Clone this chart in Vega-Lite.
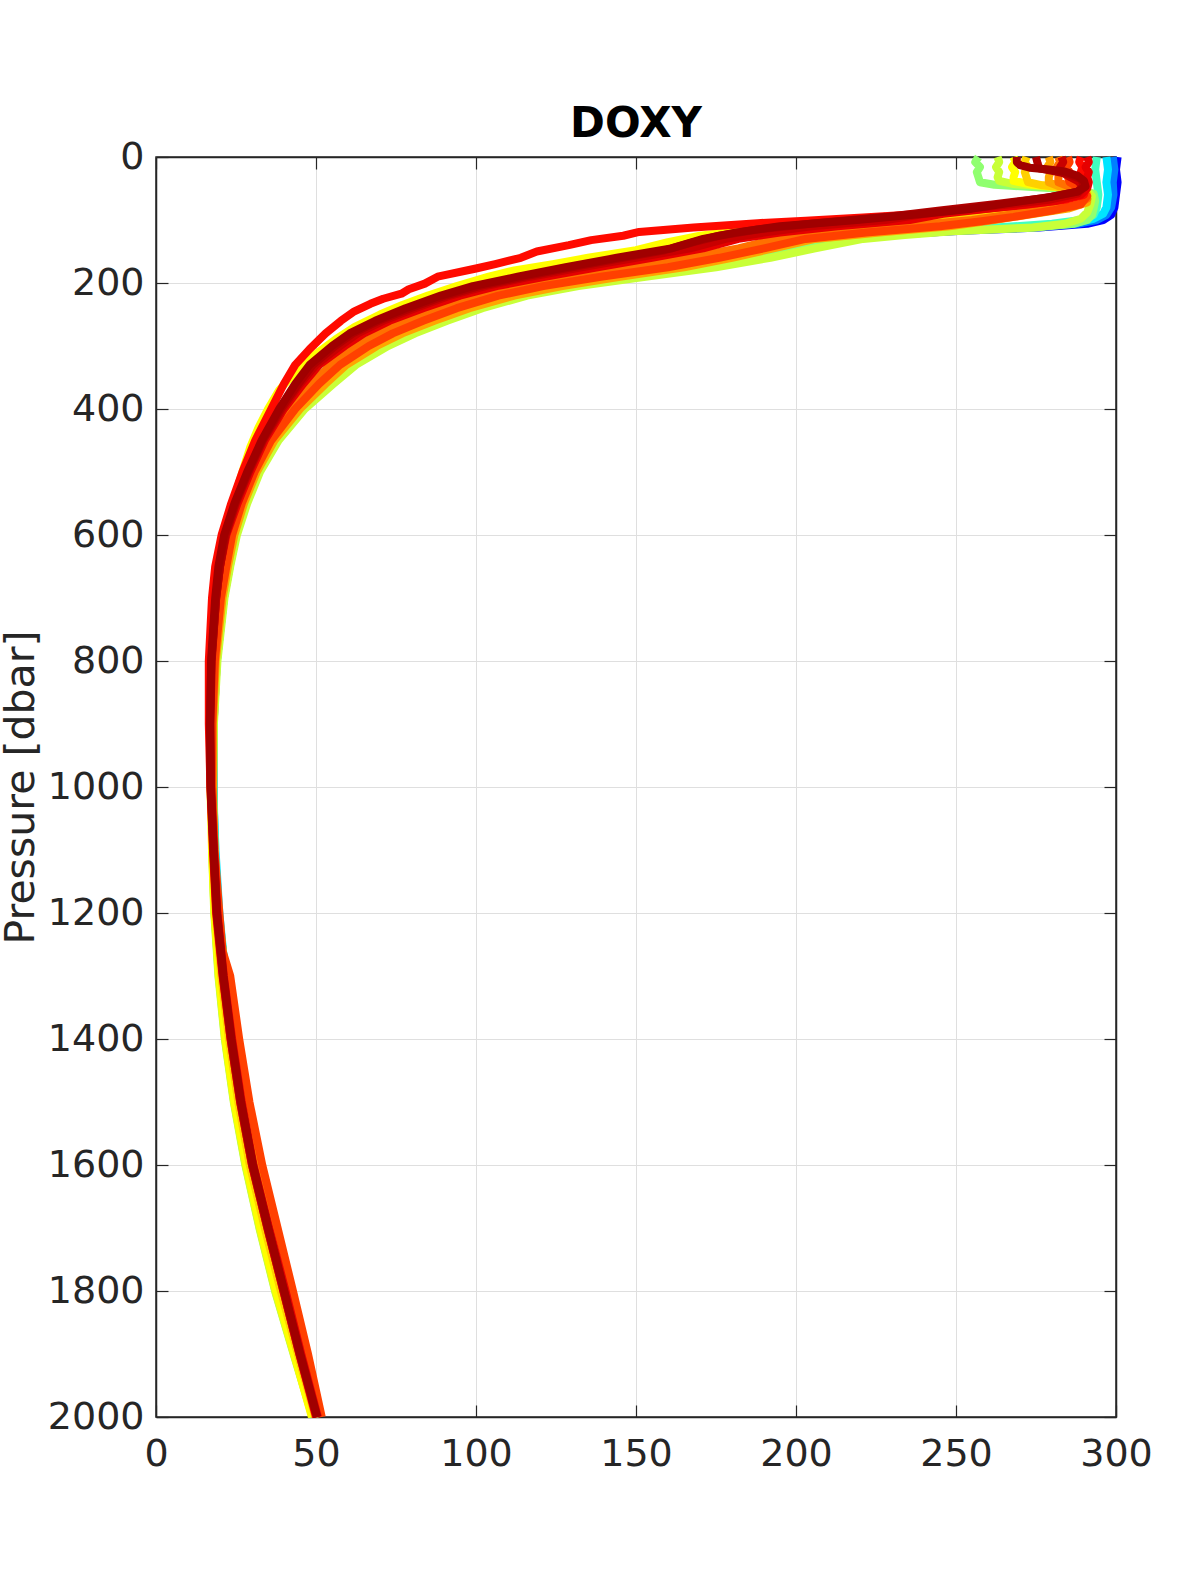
{
"$schema":"https://vega.github.io/schema/vega-lite/v6.json",
"usermeta":{"embedOptions":{"actions":false}},
"width":960,"height":1260,
"autosize":{"type":"none"},
"padding":{"left":156,"top":157,"right":84,"bottom":158},
"background":"white",
"config":{"view":{"stroke":"#262626","strokeWidth":1.5},"font":"DejaVu Sans"},
"title":{"text":"DOXY","fontSize":42,"fontWeight":"bold","font":"DejaVu Sans","color":"#000000","offset":-8,"anchor":"middle"},
"data":{"values":[
{"id":1,"p":0,"v":300.5},{"id":1,"p":20,"v":300},{"id":1,"p":40,"v":300.5},{"id":1,"p":60,"v":300},{"id":1,"p":80,"v":299.5},{"id":1,"p":92,"v":298.5},{"id":1,"p":100,"v":296},{"id":1,"p":106,"v":291},{"id":1,"p":112,"v":276},{"id":1,"p":117,"v":252},{"id":1,"p":122,"v":235},{"id":1,"p":130,"v":216},{"id":1,"p":145,"v":204},{"id":1,"p":160,"v":190},{"id":1,"p":175,"v":172},{"id":1,"p":190,"v":150},{"id":1,"p":205,"v":130},{"id":1,"p":220,"v":114},{"id":1,"p":240,"v":100},{"id":1,"p":260,"v":89},{"id":1,"p":280,"v":79.5},{"id":1,"p":300,"v":71},{"id":1,"p":330,"v":61},{"id":1,"p":360,"v":54},{"id":1,"p":400,"v":45.5},{"id":1,"p":450,"v":37.5},{"id":1,"p":500,"v":32},{"id":1,"p":550,"v":28},{"id":1,"p":600,"v":25},{"id":1,"p":650,"v":23},{"id":1,"p":700,"v":21.2},{"id":1,"p":800,"v":19},{"id":1,"p":900,"v":18},{"id":1,"p":1000,"v":18},{"id":1,"p":1100,"v":18.3},{"id":1,"p":1200,"v":19.4},{"id":1,"p":1300,"v":21.8},{"id":1,"p":1400,"v":24.5},{"id":1,"p":1500,"v":27.6},{"id":1,"p":1600,"v":31.2},{"id":1,"p":1700,"v":36},{"id":1,"p":1800,"v":41},{"id":1,"p":1900,"v":46},{"id":1,"p":2000,"v":51},
{"id":2,"p":0,"v":299},{"id":2,"p":20,"v":299.5},{"id":2,"p":40,"v":299},{"id":2,"p":60,"v":299.2},{"id":2,"p":80,"v":298.5},{"id":2,"p":92,"v":297},{"id":2,"p":100,"v":294},{"id":2,"p":106,"v":288},{"id":2,"p":112,"v":272},{"id":2,"p":118,"v":245},{"id":2,"p":124,"v":228},{"id":2,"p":130,"v":213},{"id":2,"p":145,"v":200},{"id":2,"p":160,"v":185},{"id":2,"p":175,"v":167},{"id":2,"p":190,"v":146},{"id":2,"p":205,"v":127},{"id":2,"p":220,"v":111.5},{"id":2,"p":240,"v":98},{"id":2,"p":260,"v":87},{"id":2,"p":280,"v":77.5},{"id":2,"p":300,"v":69.5},{"id":2,"p":330,"v":59.5},{"id":2,"p":360,"v":53},{"id":2,"p":400,"v":44.8},{"id":2,"p":450,"v":37},{"id":2,"p":500,"v":31.6},{"id":2,"p":550,"v":27.6},{"id":2,"p":600,"v":24.6},{"id":2,"p":650,"v":22.7},{"id":2,"p":700,"v":21},{"id":2,"p":800,"v":18.8},{"id":2,"p":900,"v":17.9},{"id":2,"p":1000,"v":17.9},{"id":2,"p":1100,"v":18.3},{"id":2,"p":1200,"v":19.3},{"id":2,"p":1300,"v":21.3},{"id":2,"p":1400,"v":23.8},{"id":2,"p":1500,"v":26.8},{"id":2,"p":1600,"v":30.5},{"id":2,"p":1700,"v":35.3},{"id":2,"p":1800,"v":40.3},{"id":2,"p":1900,"v":45.3},{"id":2,"p":2000,"v":50.6},
{"id":3,"p":0,"v":297},{"id":3,"p":20,"v":297.5},{"id":3,"p":40,"v":297},{"id":3,"p":60,"v":297.5},{"id":3,"p":80,"v":297},{"id":3,"p":90,"v":296},{"id":3,"p":98,"v":293},{"id":3,"p":105,"v":287},{"id":3,"p":111,"v":272},{"id":3,"p":118,"v":242},{"id":3,"p":124,"v":226},{"id":3,"p":130,"v":214},{"id":3,"p":145,"v":195},{"id":3,"p":160,"v":175},{"id":3,"p":175,"v":155},{"id":3,"p":190,"v":133},{"id":3,"p":205,"v":112},{"id":3,"p":220,"v":99},{"id":3,"p":240,"v":86},{"id":3,"p":260,"v":76},{"id":3,"p":280,"v":68},{"id":3,"p":300,"v":62},{"id":3,"p":330,"v":54.5},{"id":3,"p":360,"v":49},{"id":3,"p":400,"v":42},{"id":3,"p":450,"v":35},{"id":3,"p":500,"v":30},{"id":3,"p":550,"v":26},{"id":3,"p":600,"v":23},{"id":3,"p":650,"v":21.5},{"id":3,"p":700,"v":20},{"id":3,"p":800,"v":18.2},{"id":3,"p":900,"v":17.5},{"id":3,"p":1000,"v":17.8},{"id":3,"p":1100,"v":18.6},{"id":3,"p":1200,"v":19.8},{"id":3,"p":1300,"v":21.7},{"id":3,"p":1400,"v":24.1},{"id":3,"p":1500,"v":27.1},{"id":3,"p":1600,"v":30.8},{"id":3,"p":1700,"v":35.5},{"id":3,"p":1800,"v":40.5},{"id":3,"p":1900,"v":45.5},{"id":3,"p":2000,"v":50.8},
{"id":4,"p":0,"v":294},{"id":4,"p":20,"v":293.5},{"id":4,"p":40,"v":294},{"id":4,"p":60,"v":294.5},{"id":4,"p":80,"v":294},{"id":4,"p":92,"v":293},{"id":4,"p":100,"v":289},{"id":4,"p":106,"v":280},{"id":4,"p":112,"v":262},{"id":4,"p":120,"v":232},{"id":4,"p":130,"v":209},{"id":4,"p":145,"v":195},{"id":4,"p":160,"v":180},{"id":4,"p":175,"v":163},{"id":4,"p":190,"v":142},{"id":4,"p":205,"v":123},{"id":4,"p":220,"v":109},{"id":4,"p":240,"v":95.5},{"id":4,"p":260,"v":85},{"id":4,"p":280,"v":75.5},{"id":4,"p":300,"v":68},{"id":4,"p":330,"v":59},{"id":4,"p":360,"v":52.5},{"id":4,"p":400,"v":44.5},{"id":4,"p":450,"v":37},{"id":4,"p":500,"v":31.5},{"id":4,"p":550,"v":27.5},{"id":4,"p":600,"v":24.5},{"id":4,"p":650,"v":22.5},{"id":4,"p":700,"v":21},{"id":4,"p":800,"v":18.8},{"id":4,"p":900,"v":17.9},{"id":4,"p":1000,"v":18},{"id":4,"p":1100,"v":18.4},{"id":4,"p":1200,"v":19.6},{"id":4,"p":1300,"v":21.8},{"id":4,"p":1400,"v":24.3},{"id":4,"p":1500,"v":27.3},{"id":4,"p":1600,"v":31},{"id":4,"p":1700,"v":35.8},{"id":4,"p":1800,"v":40.7},{"id":4,"p":1900,"v":45.7},{"id":4,"p":2000,"v":51},
{"id":5,"p":0,"v":257},{"id":5,"p":8,"v":256},{"id":5,"p":16,"v":257.5},{"id":5,"p":24,"v":256.5},{"id":5,"p":32,"v":257},{"id":5,"p":40,"v":257.5},{"id":5,"p":44,"v":262},{"id":5,"p":48,"v":275},{"id":5,"p":52,"v":288},{"id":5,"p":58,"v":293},{"id":5,"p":70,"v":293.5},{"id":5,"p":82,"v":293},{"id":5,"p":92,"v":292.5},{"id":5,"p":100,"v":291},{"id":5,"p":106,"v":287},{"id":5,"p":112,"v":275},{"id":5,"p":117,"v":251},{"id":5,"p":122,"v":235},{"id":5,"p":128,"v":219},{"id":5,"p":140,"v":207},{"id":5,"p":160,"v":190},{"id":5,"p":175,"v":172},{"id":5,"p":190,"v":150},{"id":5,"p":205,"v":130},{"id":5,"p":220,"v":114},{"id":5,"p":240,"v":100},{"id":5,"p":260,"v":89},{"id":5,"p":280,"v":79.5},{"id":5,"p":300,"v":71},{"id":5,"p":330,"v":61},{"id":5,"p":360,"v":54},{"id":5,"p":400,"v":45.5},{"id":5,"p":450,"v":37.5},{"id":5,"p":500,"v":32},{"id":5,"p":550,"v":28},{"id":5,"p":600,"v":25},{"id":5,"p":650,"v":23},{"id":5,"p":700,"v":21.2},{"id":5,"p":800,"v":19},{"id":5,"p":900,"v":18},{"id":5,"p":1000,"v":17.8},{"id":5,"p":1100,"v":17.6},{"id":5,"p":1200,"v":18.3},{"id":5,"p":1300,"v":19.6},{"id":5,"p":1400,"v":21.6},{"id":5,"p":1500,"v":24.4},{"id":5,"p":1600,"v":28},{"id":5,"p":1700,"v":32.4},{"id":5,"p":1800,"v":37.3},{"id":5,"p":1900,"v":43.1},{"id":5,"p":2000,"v":49},
{"id":6,"p":0,"v":263},{"id":6,"p":8,"v":263.5},{"id":6,"p":16,"v":262.5},{"id":6,"p":24,"v":263.5},{"id":6,"p":32,"v":263},{"id":6,"p":38,"v":263.5},{"id":6,"p":43,"v":268},{"id":6,"p":48,"v":282},{"id":6,"p":53,"v":291},{"id":6,"p":62,"v":292.5},{"id":6,"p":75,"v":292},{"id":6,"p":88,"v":291},{"id":6,"p":98,"v":289},{"id":6,"p":106,"v":284},{"id":6,"p":112,"v":274},{"id":6,"p":118,"v":249},{"id":6,"p":124,"v":234},{"id":6,"p":130,"v":221},{"id":6,"p":145,"v":206},{"id":6,"p":160,"v":192},{"id":6,"p":175,"v":175},{"id":6,"p":190,"v":153},{"id":6,"p":205,"v":132},{"id":6,"p":220,"v":116},{"id":6,"p":240,"v":102},{"id":6,"p":260,"v":91},{"id":6,"p":280,"v":81},{"id":6,"p":300,"v":72.5},{"id":6,"p":330,"v":62.5},{"id":6,"p":360,"v":55.5},{"id":6,"p":400,"v":46.5},{"id":6,"p":450,"v":38.3},{"id":6,"p":500,"v":32.5},{"id":6,"p":550,"v":28.5},{"id":6,"p":600,"v":25.3},{"id":6,"p":650,"v":23.2},{"id":6,"p":700,"v":21.4},{"id":6,"p":800,"v":19.2},{"id":6,"p":900,"v":18.1},{"id":6,"p":1000,"v":17.9},{"id":6,"p":1100,"v":17.5},{"id":6,"p":1200,"v":18.2},{"id":6,"p":1300,"v":19.5},{"id":6,"p":1400,"v":21.5},{"id":6,"p":1500,"v":24.3},{"id":6,"p":1600,"v":27.9},{"id":6,"p":1700,"v":32.3},{"id":6,"p":1800,"v":37.2},{"id":6,"p":1900,"v":43},{"id":6,"p":2000,"v":48.9},
{"id":7,"p":0,"v":268},{"id":7,"p":8,"v":268.5},{"id":7,"p":16,"v":267.5},{"id":7,"p":24,"v":268.5},{"id":7,"p":32,"v":268},{"id":7,"p":38,"v":268},{"id":7,"p":44,"v":274},{"id":7,"p":50,"v":287},{"id":7,"p":58,"v":291},{"id":7,"p":68,"v":290},{"id":7,"p":76,"v":283},{"id":7,"p":85,"v":262},{"id":7,"p":95,"v":232},{"id":7,"p":105,"v":205},{"id":7,"p":115,"v":185},{"id":7,"p":125,"v":170},{"id":7,"p":135,"v":160},{"id":7,"p":148,"v":150},{"id":7,"p":160,"v":135},{"id":7,"p":170,"v":124},{"id":7,"p":180,"v":112},{"id":7,"p":190,"v":104},{"id":7,"p":205,"v":94},{"id":7,"p":220,"v":85},{"id":7,"p":235,"v":77},{"id":7,"p":250,"v":70},{"id":7,"p":270,"v":62},{"id":7,"p":290,"v":56},{"id":7,"p":320,"v":48},{"id":7,"p":350,"v":42},{"id":7,"p":370,"v":38.5},{"id":7,"p":400,"v":35},{"id":7,"p":430,"v":32},{"id":7,"p":460,"v":29.5},{"id":7,"p":500,"v":27},{"id":7,"p":550,"v":24},{"id":7,"p":600,"v":21.5},{"id":7,"p":650,"v":20},{"id":7,"p":700,"v":19},{"id":7,"p":800,"v":17.8},{"id":7,"p":900,"v":17.2},{"id":7,"p":1000,"v":17},{"id":7,"p":1100,"v":17.5},{"id":7,"p":1200,"v":18.3},{"id":7,"p":1300,"v":19.7},{"id":7,"p":1400,"v":21.7},{"id":7,"p":1500,"v":24.5},{"id":7,"p":1600,"v":28.2},{"id":7,"p":1700,"v":32.6},{"id":7,"p":1800,"v":37.5},{"id":7,"p":1900,"v":43.2},{"id":7,"p":2000,"v":48.7},
{"id":8,"p":0,"v":272},{"id":8,"p":8,"v":271.5},{"id":8,"p":16,"v":272.5},{"id":8,"p":24,"v":271.5},{"id":8,"p":32,"v":272},{"id":8,"p":40,"v":272.5},{"id":8,"p":45,"v":277},{"id":8,"p":50,"v":287},{"id":8,"p":58,"v":291},{"id":8,"p":70,"v":290},{"id":8,"p":80,"v":276},{"id":8,"p":90,"v":254},{"id":8,"p":100,"v":232},{"id":8,"p":110,"v":208},{"id":8,"p":120,"v":190},{"id":8,"p":130,"v":178},{"id":8,"p":145,"v":163},{"id":8,"p":160,"v":150},{"id":8,"p":175,"v":135},{"id":8,"p":190,"v":119},{"id":8,"p":205,"v":106},{"id":8,"p":220,"v":95},{"id":8,"p":240,"v":83.5},{"id":8,"p":260,"v":73},{"id":8,"p":280,"v":65},{"id":8,"p":300,"v":59},{"id":8,"p":330,"v":51},{"id":8,"p":360,"v":46},{"id":8,"p":400,"v":40},{"id":8,"p":450,"v":34},{"id":8,"p":500,"v":29.5},{"id":8,"p":550,"v":25.5},{"id":8,"p":600,"v":22.5},{"id":8,"p":650,"v":20.5},{"id":8,"p":700,"v":19.3},{"id":8,"p":800,"v":17.8},{"id":8,"p":900,"v":17.2},{"id":8,"p":1000,"v":17.4},{"id":8,"p":1100,"v":17.8},{"id":8,"p":1200,"v":18.7},{"id":8,"p":1300,"v":20.4},{"id":8,"p":1400,"v":22.8},{"id":8,"p":1500,"v":25.7},{"id":8,"p":1600,"v":29.3},{"id":8,"p":1700,"v":34},{"id":8,"p":1800,"v":39},{"id":8,"p":1900,"v":44.3},{"id":8,"p":2000,"v":49.8},
{"id":9,"p":0,"v":279},{"id":9,"p":8,"v":279.5},{"id":9,"p":16,"v":278.5},{"id":9,"p":24,"v":279.5},{"id":9,"p":32,"v":279},{"id":9,"p":40,"v":279},{"id":9,"p":46,"v":282},{"id":9,"p":52,"v":288},{"id":9,"p":60,"v":291},{"id":9,"p":72,"v":291},{"id":9,"p":82,"v":285},{"id":9,"p":92,"v":272},{"id":9,"p":100,"v":262},{"id":9,"p":110,"v":248},{"id":9,"p":120,"v":226},{"id":9,"p":130,"v":206},{"id":9,"p":145,"v":193},{"id":9,"p":160,"v":180},{"id":9,"p":175,"v":165},{"id":9,"p":190,"v":145},{"id":9,"p":205,"v":127},{"id":9,"p":220,"v":112},{"id":9,"p":240,"v":98},{"id":9,"p":260,"v":87},{"id":9,"p":280,"v":77},{"id":9,"p":300,"v":69},{"id":9,"p":330,"v":59.5},{"id":9,"p":360,"v":53},{"id":9,"p":400,"v":45},{"id":9,"p":450,"v":37},{"id":9,"p":500,"v":31.5},{"id":9,"p":550,"v":27.5},{"id":9,"p":600,"v":24.5},{"id":9,"p":650,"v":22.5},{"id":9,"p":700,"v":20.8},{"id":9,"p":800,"v":18.7},{"id":9,"p":900,"v":17.8},{"id":9,"p":1000,"v":17.8},{"id":9,"p":1100,"v":18.3},{"id":9,"p":1200,"v":19.4},{"id":9,"p":1300,"v":21.8},{"id":9,"p":1400,"v":24.5},{"id":9,"p":1500,"v":27.6},{"id":9,"p":1600,"v":31.2},{"id":9,"p":1700,"v":36},{"id":9,"p":1800,"v":41},{"id":9,"p":1900,"v":46},{"id":9,"p":2000,"v":51},
{"id":10,"p":0,"v":282},{"id":10,"p":8,"v":282.5},{"id":10,"p":16,"v":281.5},{"id":10,"p":24,"v":282.5},{"id":10,"p":32,"v":282},{"id":10,"p":40,"v":282},{"id":10,"p":48,"v":286},{"id":10,"p":56,"v":290},{"id":10,"p":66,"v":291},{"id":10,"p":78,"v":287},{"id":10,"p":88,"v":272},{"id":10,"p":100,"v":255},{"id":10,"p":110,"v":234},{"id":10,"p":120,"v":210},{"id":10,"p":130,"v":194},{"id":10,"p":145,"v":182},{"id":10,"p":160,"v":166},{"id":10,"p":175,"v":150},{"id":10,"p":190,"v":131},{"id":10,"p":205,"v":114},{"id":10,"p":220,"v":101.5},{"id":10,"p":240,"v":89},{"id":10,"p":260,"v":78.5},{"id":10,"p":280,"v":70},{"id":10,"p":300,"v":63},{"id":10,"p":330,"v":54.5},{"id":10,"p":360,"v":49},{"id":10,"p":400,"v":42},{"id":10,"p":450,"v":35},{"id":10,"p":500,"v":30},{"id":10,"p":550,"v":26},{"id":10,"p":600,"v":23},{"id":10,"p":650,"v":21.5},{"id":10,"p":700,"v":20},{"id":10,"p":800,"v":18.2},{"id":10,"p":900,"v":17.5},{"id":10,"p":1000,"v":17.6},{"id":10,"p":1100,"v":18},{"id":10,"p":1200,"v":19},{"id":10,"p":1300,"v":21},{"id":10,"p":1400,"v":23.5},{"id":10,"p":1500,"v":26.5},{"id":10,"p":1600,"v":30.2},{"id":10,"p":1700,"v":35},{"id":10,"p":1800,"v":40},{"id":10,"p":1900,"v":45},{"id":10,"p":2000,"v":50.3},
{"id":11,"p":0,"v":285},{"id":11,"p":8,"v":285.5},{"id":11,"p":16,"v":284.5},{"id":11,"p":24,"v":285.5},{"id":11,"p":32,"v":285},{"id":11,"p":40,"v":285.5},{"id":11,"p":50,"v":289},{"id":11,"p":62,"v":291},{"id":11,"p":75,"v":289},{"id":11,"p":85,"v":280},{"id":11,"p":95,"v":268},{"id":11,"p":102,"v":258},{"id":11,"p":110,"v":245},{"id":11,"p":120,"v":222},{"id":11,"p":130,"v":203},{"id":11,"p":145,"v":190},{"id":11,"p":160,"v":176},{"id":11,"p":175,"v":160},{"id":11,"p":190,"v":139},{"id":11,"p":205,"v":121},{"id":11,"p":220,"v":107},{"id":11,"p":240,"v":94},{"id":11,"p":260,"v":83.5},{"id":11,"p":280,"v":74},{"id":11,"p":300,"v":66.5},{"id":11,"p":330,"v":57.5},{"id":11,"p":360,"v":51},{"id":11,"p":400,"v":43.5},{"id":11,"p":450,"v":36},{"id":11,"p":500,"v":30.8},{"id":11,"p":550,"v":26.8},{"id":11,"p":600,"v":23.8},{"id":11,"p":650,"v":22},{"id":11,"p":700,"v":20.3},{"id":11,"p":800,"v":18.4},{"id":11,"p":900,"v":17.6},{"id":11,"p":1000,"v":17.5},{"id":11,"p":1100,"v":18.3},{"id":11,"p":1200,"v":19.8},{"id":11,"p":1260,"v":20.8},{"id":11,"p":1300,"v":23.2},{"id":11,"p":1400,"v":26},{"id":11,"p":1500,"v":29.2},{"id":11,"p":1600,"v":33.2},{"id":11,"p":1700,"v":38},{"id":11,"p":1800,"v":42.8},{"id":11,"p":1900,"v":47.5},{"id":11,"p":2000,"v":51.8},
{"id":12,"p":0,"v":289},{"id":12,"p":8,"v":288.5},{"id":12,"p":16,"v":289.5},{"id":12,"p":24,"v":289},{"id":12,"p":32,"v":289.5},{"id":12,"p":40,"v":290},{"id":12,"p":50,"v":290.5},{"id":12,"p":60,"v":290},{"id":12,"p":68,"v":284},{"id":12,"p":76,"v":272},{"id":12,"p":84,"v":255},{"id":12,"p":90,"v":240},{"id":12,"p":96,"v":221},{"id":12,"p":101,"v":203},{"id":12,"p":105,"v":188},{"id":12,"p":112,"v":168},{"id":12,"p":119,"v":151},{"id":12,"p":125,"v":146},{"id":12,"p":132,"v":136},{"id":12,"p":140,"v":129},{"id":12,"p":150,"v":119},{"id":12,"p":160,"v":114},{"id":12,"p":170,"v":106},{"id":12,"p":177,"v":100},{"id":12,"p":190,"v":88},{"id":12,"p":201,"v":84},{"id":12,"p":210,"v":79},{"id":12,"p":217,"v":76.7},{"id":12,"p":225,"v":71},{"id":12,"p":233,"v":67},{"id":12,"p":245,"v":62},{"id":12,"p":260,"v":57.8},{"id":12,"p":280,"v":53},{"id":12,"p":305,"v":48},{"id":12,"p":330,"v":43.5},{"id":12,"p":360,"v":40},{"id":12,"p":400,"v":36},{"id":12,"p":450,"v":31},{"id":12,"p":500,"v":27},{"id":12,"p":550,"v":23.5},{"id":12,"p":600,"v":20.5},{"id":12,"p":650,"v":18.5},{"id":12,"p":700,"v":17.5},{"id":12,"p":800,"v":16.5},{"id":12,"p":900,"v":16.5},{"id":12,"p":1000,"v":17},{"id":12,"p":1100,"v":17.8},{"id":12,"p":1200,"v":18.8},{"id":12,"p":1300,"v":20.8},{"id":12,"p":1400,"v":23.3},{"id":12,"p":1500,"v":26.3},{"id":12,"p":1600,"v":30},{"id":12,"p":1700,"v":34.8},{"id":12,"p":1800,"v":39.8},{"id":12,"p":1900,"v":44.8},{"id":12,"p":2000,"v":50},
{"id":13,"p":0,"v":291},{"id":13,"p":8,"v":291.5},{"id":13,"p":16,"v":290.5},{"id":13,"p":24,"v":291.5},{"id":13,"p":32,"v":291},{"id":13,"p":40,"v":291.5},{"id":13,"p":50,"v":291},{"id":13,"p":60,"v":289},{"id":13,"p":70,"v":281},{"id":13,"p":80,"v":264},{"id":13,"p":90,"v":246},{"id":13,"p":100,"v":235.5},{"id":13,"p":110,"v":213},{"id":13,"p":120,"v":195},{"id":13,"p":130,"v":182},{"id":13,"p":145,"v":171},{"id":13,"p":160,"v":155},{"id":13,"p":175,"v":138},{"id":13,"p":190,"v":121.5},{"id":13,"p":205,"v":106.5},{"id":13,"p":220,"v":95},{"id":13,"p":240,"v":83.5},{"id":13,"p":260,"v":73},{"id":13,"p":280,"v":65},{"id":13,"p":300,"v":59},{"id":13,"p":330,"v":51},{"id":13,"p":360,"v":46},{"id":13,"p":400,"v":40},{"id":13,"p":450,"v":34},{"id":13,"p":500,"v":29.5},{"id":13,"p":550,"v":25.5},{"id":13,"p":600,"v":22},{"id":13,"p":650,"v":20},{"id":13,"p":700,"v":18.8},{"id":13,"p":800,"v":17.3},{"id":13,"p":900,"v":16.8},{"id":13,"p":1000,"v":17.2},{"id":13,"p":1100,"v":18.1},{"id":13,"p":1200,"v":19.2},{"id":13,"p":1300,"v":21.2},{"id":13,"p":1400,"v":23.8},{"id":13,"p":1500,"v":26.8},{"id":13,"p":1600,"v":30.5},{"id":13,"p":1700,"v":35.4},{"id":13,"p":1800,"v":40.5},{"id":13,"p":1900,"v":45.4},{"id":13,"p":2000,"v":50.6},
{"id":14,"p":0,"v":283},{"id":14,"p":8,"v":283.5},{"id":14,"p":16,"v":282.5},{"id":14,"p":24,"v":283},{"id":14,"p":30,"v":285},{"id":14,"p":38,"v":288},{"id":14,"p":48,"v":290},{"id":14,"p":58,"v":288},{"id":14,"p":68,"v":279},{"id":14,"p":78,"v":262},{"id":14,"p":88,"v":243},{"id":14,"p":100,"v":228},{"id":14,"p":110,"v":205},{"id":14,"p":120,"v":190},{"id":14,"p":130,"v":178},{"id":14,"p":145,"v":167},{"id":14,"p":160,"v":150},{"id":14,"p":175,"v":133},{"id":14,"p":190,"v":117},{"id":14,"p":205,"v":103},{"id":14,"p":220,"v":92},{"id":14,"p":240,"v":81},{"id":14,"p":260,"v":71},{"id":14,"p":280,"v":63},{"id":14,"p":300,"v":57.5},{"id":14,"p":330,"v":50},{"id":14,"p":360,"v":45},{"id":14,"p":400,"v":39.5},{"id":14,"p":450,"v":33.5},{"id":14,"p":500,"v":29},{"id":14,"p":550,"v":25},{"id":14,"p":600,"v":21.8},{"id":14,"p":650,"v":20},{"id":14,"p":700,"v":18.8},{"id":14,"p":800,"v":17.3},{"id":14,"p":900,"v":16.8},{"id":14,"p":1000,"v":17},{"id":14,"p":1100,"v":17.9},{"id":14,"p":1200,"v":18.9},{"id":14,"p":1300,"v":20.9},{"id":14,"p":1400,"v":23.3},{"id":14,"p":1500,"v":26.3},{"id":14,"p":1600,"v":30},{"id":14,"p":1700,"v":34.8},{"id":14,"p":1800,"v":39.8},{"id":14,"p":1900,"v":44.8},{"id":14,"p":2000,"v":50.2},
{"id":15,"p":0,"v":275},{"id":15,"p":10,"v":275.5},{"id":15,"p":18,"v":276},{"id":15,"p":22,"v":280},{"id":15,"p":27,"v":285},{"id":15,"p":35,"v":289},{"id":15,"p":45,"v":290},{"id":15,"p":55,"v":288},{"id":15,"p":65,"v":278},{"id":15,"p":75,"v":262},{"id":15,"p":85,"v":245},{"id":15,"p":95,"v":228},{"id":15,"p":105,"v":206},{"id":15,"p":115,"v":188},{"id":15,"p":125,"v":176},{"id":15,"p":135,"v":168},{"id":15,"p":148,"v":159},{"id":15,"p":160,"v":146},{"id":15,"p":175,"v":130},{"id":15,"p":190,"v":115},{"id":15,"p":205,"v":101},{"id":15,"p":220,"v":90.5},{"id":15,"p":240,"v":79.5},{"id":15,"p":260,"v":69.5},{"id":15,"p":280,"v":61.5},{"id":15,"p":300,"v":56},{"id":15,"p":330,"v":49},{"id":15,"p":360,"v":44.5},{"id":15,"p":400,"v":39},{"id":15,"p":450,"v":33.3},{"id":15,"p":500,"v":28.8},{"id":15,"p":550,"v":24.8},{"id":15,"p":600,"v":21.7},{"id":15,"p":650,"v":20},{"id":15,"p":700,"v":18.8},{"id":15,"p":800,"v":17.4},{"id":15,"p":900,"v":17},{"id":15,"p":1000,"v":17.2},{"id":15,"p":1100,"v":18},{"id":15,"p":1200,"v":19},{"id":15,"p":1300,"v":21},{"id":15,"p":1400,"v":23.5},{"id":15,"p":1500,"v":26.5},{"id":15,"p":1600,"v":30.2},{"id":15,"p":1700,"v":35},{"id":15,"p":1800,"v":40},{"id":15,"p":1900,"v":45},{"id":15,"p":2000,"v":50.3},
{"id":16,"p":0,"v":269},{"id":16,"p":8,"v":269},{"id":16,"p":13,"v":270},{"id":16,"p":17,"v":273},{"id":16,"p":20,"v":279},{"id":16,"p":23,"v":284},{"id":16,"p":30,"v":288},{"id":16,"p":38,"v":290},{"id":16,"p":47,"v":290.5},{"id":16,"p":55,"v":288},{"id":16,"p":63,"v":280},{"id":16,"p":72,"v":268},{"id":16,"p":82,"v":255},{"id":16,"p":90,"v":240},{"id":16,"p":100,"v":219},{"id":16,"p":110,"v":195},{"id":16,"p":120,"v":181},{"id":16,"p":130,"v":171},{"id":16,"p":145,"v":161},{"id":16,"p":160,"v":144},{"id":16,"p":175,"v":128},{"id":16,"p":190,"v":113},{"id":16,"p":205,"v":99},{"id":16,"p":220,"v":89},{"id":16,"p":240,"v":78},{"id":16,"p":260,"v":68.5},{"id":16,"p":280,"v":60.5},{"id":16,"p":300,"v":55},{"id":16,"p":330,"v":48},{"id":16,"p":360,"v":43.5},{"id":16,"p":400,"v":38.5},{"id":16,"p":450,"v":33},{"id":16,"p":500,"v":28.5},{"id":16,"p":550,"v":24.5},{"id":16,"p":600,"v":21.3},{"id":16,"p":650,"v":19.5},{"id":16,"p":700,"v":18.5},{"id":16,"p":800,"v":17.2},{"id":16,"p":900,"v":16.9},{"id":16,"p":1000,"v":17.1},{"id":16,"p":1100,"v":18},{"id":16,"p":1200,"v":19.1},{"id":16,"p":1300,"v":21.1},{"id":16,"p":1400,"v":23.6},{"id":16,"p":1500,"v":26.6},{"id":16,"p":1600,"v":30.3},{"id":16,"p":1700,"v":35.1},{"id":16,"p":1800,"v":40.1},{"id":16,"p":1900,"v":45.1},{"id":16,"p":2000,"v":50.4}
]},
"layer":[
{"mark":{"type":"line","strokeWidth":8,"strokeJoin":"round","clip":false},
 "encoding":{
  "x":{"field":"v","type":"quantitative","scale":{"domain":[0,300],"nice":false,"zero":false},
       "axis":{"orient":"bottom","values":[0,50,100,150,200,250,300],"format":"d","grid":true,"gridColor":"#dfdfdf","gridWidth":1,"tickSize":-12,"tickColor":"#262626","tickWidth":1.2,"domainColor":"#262626","domainWidth":1.5,"labelFont":"DejaVu Sans","labelFontSize":38,"labelColor":"#262626","labelPadding":30,"labelFlush":false,"labelOverlap":false,"title":null}},
  "y":{"field":"p","type":"quantitative","scale":{"domain":[0,2000],"reverse":true,"nice":false,"zero":false},
       "axis":{"orient":"left","values":[0,200,400,600,800,1000,1200,1400,1600,1800,2000],"format":"d","grid":true,"gridColor":"#dfdfdf","gridWidth":1,"tickSize":-12,"tickColor":"#262626","tickWidth":1.2,"domainColor":"#262626","domainWidth":1.5,"labelFont":"DejaVu Sans","labelFontSize":38,"labelColor":"#262626","labelPadding":24,"labelFlush":false,"labelOverlap":false,"title":"Pressure [dbar]","titleFont":"DejaVu Sans","titleFontSize":41,"titleFontWeight":"normal","titleColor":"#262626","titlePadding":5}},
  "color":{"field":"id","type":"nominal","scale":{"domain":[1,2,3,4,5,6,7,8,9,10,11,12,13,14,15,16],"range":["#0000ff","#0080ff","#00e5ff","#40ffc0","#90ff70","#c8ff38","#ffff00","#ffd000","#ffa500","#ff7000","#ff4000","#ff0a00","#e60000","#c80000","#b00000","#a00000"]},"legend":null},
  "order":{"field":"p","type":"quantitative"}
 }},
{"mark":{"type":"point","opacity":0},
 "encoding":{
  "x":{"field":"v","type":"quantitative","axis":{"orient":"top","values":[0,50,100,150,200,250,300],"grid":false,"labels":false,"tickSize":-12,"tickColor":"#262626","tickWidth":1.2,"domainColor":"#262626","domainWidth":1.5,"title":null}},
  "y":{"field":"p","type":"quantitative","axis":{"orient":"right","values":[0,200,400,600,800,1000,1200,1400,1600,1800,2000],"grid":false,"labels":false,"tickSize":-12,"tickColor":"#262626","tickWidth":1.2,"domainColor":"#262626","domainWidth":1.5,"title":null}}
 }}
],
"resolve":{"axis":{"x":"independent","y":"independent"}}
}
